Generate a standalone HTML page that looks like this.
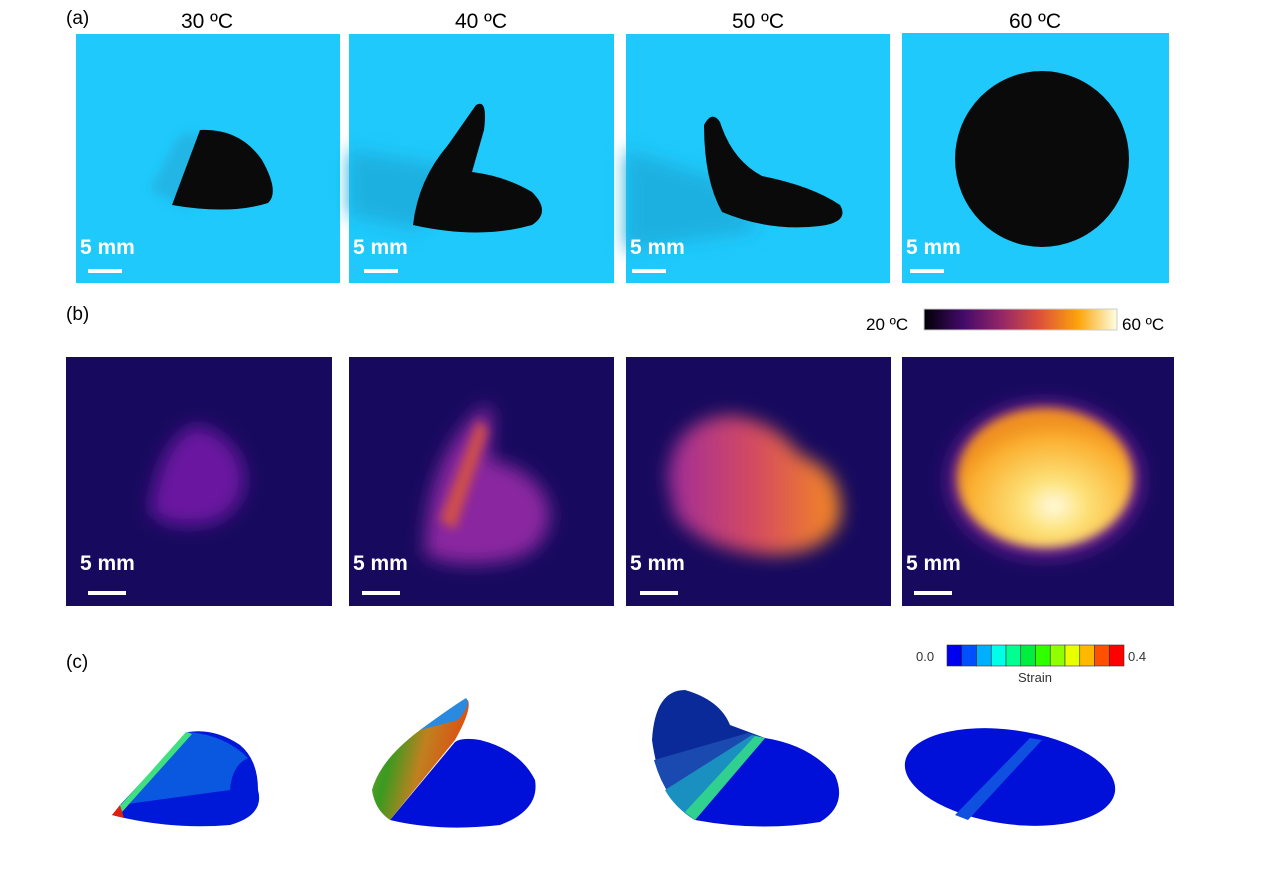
<!DOCTYPE html>
<html><head><meta charset="utf-8"><style>
body{margin:0;background:#fff}
svg{display:block;font-family:"Liberation Sans",sans-serif}
</style></head><body>
<svg width="1272" height="895" viewBox="0 0 1272 895">
<defs>
<filter id="b8" x="-50%" y="-50%" width="200%" height="200%"><feGaussianBlur stdDeviation="9"/></filter>
<filter id="b4" x="-50%" y="-50%" width="200%" height="200%"><feGaussianBlur stdDeviation="5"/></filter>
<linearGradient id="inferno" x1="0" x2="1">
<stop offset="0" stop-color="#000004"/><stop offset="0.2" stop-color="#420a68"/><stop offset="0.4" stop-color="#932667"/><stop offset="0.6" stop-color="#dd513a"/><stop offset="0.8" stop-color="#fca50a"/><stop offset="1" stop-color="#fcffe4"/>
</linearGradient>
<radialGradient id="hot" cx="0.55" cy="0.7" r="0.6"><stop offset="0" stop-color="#fffbe0"/><stop offset="0.3" stop-color="#fde27a"/><stop offset="0.8" stop-color="#fbb030"/><stop offset="1" stop-color="#f09020"/></radialGradient>
<linearGradient id="warm50" x1="0" x2="1"><stop offset="0" stop-color="#a02c9a"/><stop offset="0.5" stop-color="#d44a60"/><stop offset="1" stop-color="#f58a20"/></linearGradient>
<linearGradient id="fold40" x1="0" y1="0" x2="1" y2="0.3"><stop offset="0" stop-color="#7aa030"/><stop offset="0.3" stop-color="#3a9a20"/><stop offset="0.6" stop-color="#c08020"/><stop offset="1" stop-color="#e04a10"/></linearGradient>
</defs>

<text x="66" y="24" font-size="19">(a)</text>
<text x="66" y="320" font-size="19">(b)</text>
<text x="66" y="668" font-size="19">(c)</text>

<g font-size="21" text-anchor="middle">
<text x="207" y="28">30 ºC</text><text x="481" y="28">40 ºC</text><text x="758" y="28">50 ºC</text><text x="1035" y="28">60 ºC</text>
</g>

<g>
<rect x="76" y="34" width="264" height="249" fill="#1fc9fb"/>
<path d="M150,190 L180,135 L200,132 L190,210 Z" fill="#22b5e6" filter="url(#b4)"/>
<path d="M172,205 L200,130 Q240,128 262,160 Q280,192 268,203 Q230,215 172,205Z" fill="#0a0a0a"/>
</g>
<g>
<rect x="349" y="34" width="265" height="249" fill="#1fc9fb"/>
<path d="M349,150 L470,170 L420,230 L349,215Z" fill="#1ab0e0" filter="url(#b8)"/>
<path d="M413,225 Q418,180 448,145 L476,105 Q488,98 484,130 L472,172 Q505,176 532,192 Q552,212 532,225 Q480,240 413,225Z" fill="#0a0a0a"/>
</g>
<g>
<rect x="626" y="34" width="264" height="249" fill="#1fc9fb"/>
<path d="M626,150 L720,180 L760,230 L626,250Z" fill="#1ab0e0" filter="url(#b8)"/>
<path d="M704,125 Q712,110 720,122 Q732,160 762,176 Q812,186 840,205 Q850,222 820,226 Q770,232 722,212 Q704,180 704,125Z" fill="#0a0a0a"/>
</g>
<g>
<rect x="902" y="33" width="267" height="250" fill="#1fc9fb"/>
<ellipse cx="1042" cy="159" rx="87" ry="88" fill="#0a0a0a"/>
</g>

<g>
<rect x="66" y="357" width="266" height="249" fill="#170a5e"/>
<path d="M150,510 Q160,440 195,425 Q240,435 245,480 Q240,520 200,525 Q160,528 150,510Z" fill="#6a18a0" filter="url(#b8)"/>
</g>
<g>
<rect x="349" y="357" width="265" height="249" fill="#170a5e"/>
<path d="M425,555 Q425,470 470,420 L485,405 Q495,410 490,440 L490,460 Q540,470 550,510 Q550,550 510,560 Q460,570 425,555Z" fill="#8a26a0" filter="url(#b8)"/>
<path d="M440,520 L478,420 L488,430 L455,530Z" fill="#d0504a" filter="url(#b4)"/>
</g>
<g>
<rect x="626" y="357" width="265" height="249" fill="#170a5e"/>
<path d="M668,480 Q670,420 730,415 Q775,420 800,455 Q845,470 840,520 Q825,555 770,555 Q700,550 675,515Z" fill="url(#warm50)" filter="url(#b8)"/>
</g>
<g>
<rect x="902" y="357" width="272" height="249" fill="#170a5e"/>
<ellipse cx="1045" cy="480" rx="97" ry="78" fill="#6a1a90" filter="url(#b8)"/>
<ellipse cx="1045" cy="478" rx="88" ry="70" fill="url(#hot)" filter="url(#b4)"/>
</g>

<g fill="#fff" font-size="21" font-weight="bold">
<text x="80" y="254">5 mm</text><rect x="88" y="269" width="34" height="4"/>
<text x="353" y="254">5 mm</text><rect x="364" y="269" width="34" height="4"/>
<text x="630" y="254">5 mm</text><rect x="632" y="269" width="34" height="4"/>
<text x="906" y="254">5 mm</text><rect x="910" y="269" width="34" height="4"/>
<text x="80" y="570">5 mm</text><rect x="88" y="591" width="38" height="4"/>
<text x="353" y="570">5 mm</text><rect x="362" y="591" width="38" height="4"/>
<text x="630" y="570">5 mm</text><rect x="640" y="591" width="38" height="4"/>
<text x="906" y="570">5 mm</text><rect x="914" y="591" width="38" height="4"/>
</g>

<g>
<text x="866" y="330" font-size="17">20 ºC</text>
<rect x="924" y="309" width="193" height="21" fill="url(#inferno)" stroke="#ccc"/>
<text x="1122" y="330" font-size="17">60 ºC</text>
</g>

<g>
<text x="916" y="661" font-size="13" fill="#333">0.0</text>
<g id="strainbar"></g>
<text x="1128" y="661" font-size="13" fill="#333">0.4</text>
<text x="1035" y="682" font-size="13" fill="#333" text-anchor="middle">Strain</text>
</g>

<g>
<path d="M112,815 Q170,830 230,825 Q265,815 258,790 Q258,760 240,745 Q215,728 188,732 Z" fill="#0018d8"/>
<path d="M120,805 L188,732 Q225,735 248,758 Q232,765 230,790 Z" fill="#0a58e0"/>
<path d="M112,815 L186,732 L192,734 L122,812Z" fill="#40e080"/>
<path d="M112,815 L120,805 L124,818Z" fill="#e02010"/>
</g>
<g>
<path d="M390,820 Q440,832 500,825 Q540,810 535,780 Q520,750 480,740 Q462,737 455,742 L390,820Z" fill="#0010d8"/>
<path d="M372,790 Q380,760 420,730 Q450,710 468,700 Q472,710 455,740 L390,820 Q375,810 372,790Z" fill="url(#fold40)"/>
<path d="M420,730 Q450,708 466,698 Q472,704 458,720 Z" fill="#2a8ae0"/>
</g>
<g>
<path d="M695,820 Q760,832 820,822 Q848,805 835,775 Q810,745 765,738 Z" fill="#0010d8"/>
<path d="M652,740 Q655,690 685,690 Q720,700 730,725 L765,738 L695,820 Q660,800 652,740Z" fill="#0a2a9a"/>
<path d="M654,760 L748,733 L765,738 L695,820 Q665,800 654,760Z" fill="#1a4ab0"/>
<path d="M665,790 L752,735 L765,738 L695,820 Q675,808 665,790Z" fill="#1a90c0"/>
<path d="M695,820 L765,738 L755,736 L685,812Z" fill="#30d090"/>
</g>
<g>
<ellipse cx="1010" cy="777" rx="106" ry="47" transform="rotate(8 1010 777)" fill="#0010d8"/>
<path d="M955,815 L1030,738 L1042,740 L968,820Z" fill="#1050e0"/>
</g>

<script>
var strainColors=["#0000ee","#0050ff","#00b0ff","#00ffe8","#00ff90","#00ee40","#30ff00","#90ff00","#e8ff00","#ffb800","#ff5000","#ff0000"];
var g=document.getElementById('strainbar');
var w=(1124-947)/strainColors.length;
strainColors.forEach(function(c,i){
 var r=document.createElementNS('http://www.w3.org/2000/svg','rect');
 r.setAttribute('x',947+i*w);r.setAttribute('y',645);r.setAttribute('width',w);r.setAttribute('height',21);
 r.setAttribute('fill',c);r.setAttribute('stroke','#333');r.setAttribute('stroke-width','0.6');
 
 
 g.appendChild(r);
});
</script>
</svg>
</body></html>
